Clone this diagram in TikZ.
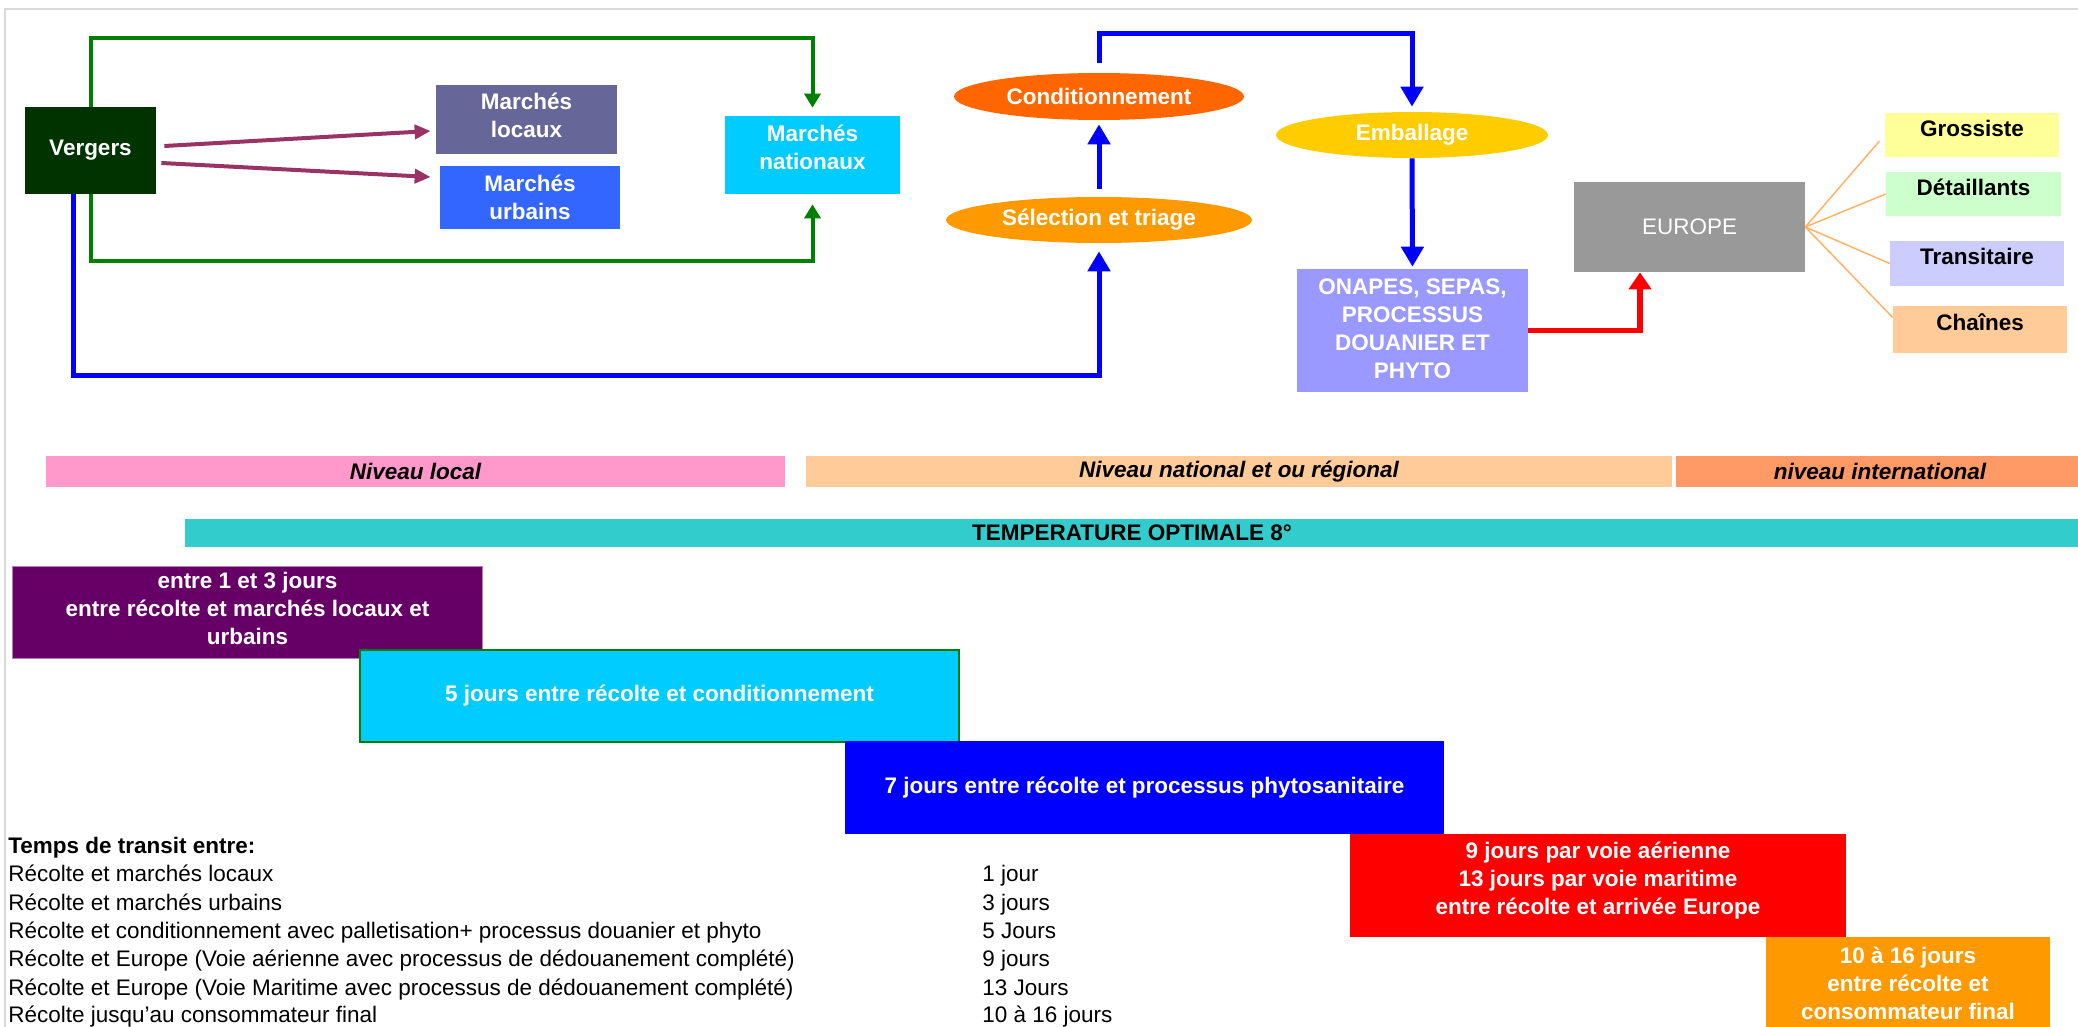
\documentclass[tikz,border=0pt]{standalone}
\usepackage{fontspec}
\setmainfont{Liberation Sans}
\usepackage{tikz}
\usetikzlibrary{arrows.meta,shapes.geometric}

\newcommand{\txtsize}{\fontsize{12.8}{15.9}\selectfont}

\definecolor{vergerfill}{HTML}{003300}
\definecolor{locauxfill}{HTML}{666699}
\definecolor{urbainsfill}{HTML}{3366FF}
\definecolor{nationfill}{HTML}{00CCFF}
\definecolor{condfill}{HTML}{FF6600}
\definecolor{selfill}{HTML}{FF9900}
\definecolor{embfill}{HTML}{FFCC00}
\definecolor{onapesfill}{HTML}{9999FF}
\definecolor{europefill}{HTML}{999999}
\definecolor{grossfill}{HTML}{FFFF99}
\definecolor{detfill}{HTML}{CCFFCC}
\definecolor{transfill}{HTML}{CCCCFF}
\definecolor{chainfill}{HTML}{FFCC99}
\definecolor{localbar}{HTML}{FF99CC}
\definecolor{nationbar}{HTML}{FFCC99}
\definecolor{interbar}{HTML}{FF9966}
\definecolor{tempbar}{HTML}{33CCCC}
\definecolor{purplebox}{HTML}{660066}
\definecolor{cyanbox}{HTML}{00CCFF}
\definecolor{bluebox}{HTML}{0000FF}
\definecolor{redbox}{HTML}{FF0000}
\definecolor{orangebox}{HTML}{FF9900}
\definecolor{flowgreen}{HTML}{008000}
\definecolor{flowpurple}{HTML}{993366}
\definecolor{flowblue}{HTML}{0000FF}
\definecolor{flowred}{HTML}{FF0000}
\definecolor{fanorange}{HTML}{FFB366}
\definecolor{framegray}{HTML}{D9D9D9}

\begin{document}
\begin{tikzpicture}[x=0.02cm,y=-0.02cm,
  box/.style={rectangle,inner sep=0pt,align=center,text=white,font=\txtsize\bfseries},
  oval/.style={ellipse,inner sep=0pt,text=white,font=\txtsize\bfseries},
  client/.style={rectangle,inner sep=0pt,font=\txtsize\bfseries,text height=0.75em,text depth=0.62em},
  bar/.style={rectangle,inner sep=0pt,font=\txtsize\bfseries\itshape},
  tabtxt/.style={anchor=base west,inner sep=0pt,font=\txtsize},
  greenflow/.style={flowgreen,line width=0.08cm,-{Triangle[length=0.28cm,width=0.32cm]}},
  purpleflow/.style={flowpurple,line width=0.08cm,-{Triangle[length=0.32cm,width=0.28cm]}},
  blueflow/.style={flowblue,line width=0.1cm,-{Triangle[length=0.4cm,width=0.44cm]}},
  redflow/.style={flowred,line width=0.11cm,-{Triangle[length=0.34cm,width=0.44cm]}},
  fanline/.style={fanorange,line width=0.03cm}]

\useasboundingbox (0,0) rectangle (2078,1027);
\draw[framegray,line width=0.04cm] (5,1027) -- (5,9) -- (2078,9);

% markets
\node[box,fill=vergerfill,minimum width=2.62cm,minimum height=1.74cm] (vergers) at (90.5,150.5) {Vergers};
\node[box,fill=locauxfill,minimum width=3.62cm,minimum height=1.38cm,text depth=0.16cm] (locaux) at (526.5,119.5) {Marchés\\locaux};
\node[box,fill=urbainsfill,minimum width=3.6cm,minimum height=1.26cm] (urbains) at (530,197.5) {Marchés\\urbains};
\node[box,fill=nationfill,minimum width=3.5cm,minimum height=1.56cm,text depth=0.32cm] (nationaux) at (812.5,155) {Marchés\\nationaux};

% export chain
\node[oval,fill=condfill,minimum width=5.8cm,minimum height=0.94cm] (conditionnement) at (1099,96.5) {Conditionnement};
\node[oval,fill=selfill,minimum width=6.12cm,minimum height=0.92cm] (selection) at (1099,220) {Sélection et triage};
\node[oval,fill=embfill,minimum width=5.44cm,minimum height=0.92cm] (emballage) at (1412,135) {Emballage};
\node[box,fill=onapesfill,minimum width=4.62cm,minimum height=2.46cm,text depth=0.08cm] (onapes) at (1412.5,330.5) {ONAPES, SEPAS,\\PROCESSUS\\DOUANIER ET\\PHYTO};
\node[box,fill=europefill,minimum width=4.62cm,minimum height=1.8cm,font=\txtsize] (europe) at (1689.5,227) {EUROPE};

% clients
\node[client,fill=grossfill,minimum width=3.48cm,minimum height=0.88cm] (grossiste) at (1972,135) {Grossiste};
\node[client,fill=detfill,minimum width=3.5cm,minimum height=0.88cm] (detaillants) at (1973.5,194) {Détaillants};
\node[client,fill=transfill,minimum width=3.48cm,minimum height=0.9cm] (transitaire) at (1977,263.5) {Transitaire};
\node[client,fill=chainfill,minimum width=3.48cm,minimum height=0.94cm] (chaines) at (1980,329.5) {Chaînes};

% flows
\draw[greenflow,shorten >=0.16cm] (vergers.north) -- ++(0,-69) -| (nationaux.north);
\draw[greenflow,shorten >=0.2cm] (vergers.south) -- ++(0,67) -| (nationaux.south);
\draw[purpleflow] ([xshift=0.16cm,yshift=0.09cm]vergers.east) -- ([xshift=-0.1cm,yshift=-0.23cm]locaux.west);
\draw[purpleflow] ([xshift=0.1cm,yshift=-0.25cm]vergers.east) -- ([xshift=-0.18cm,yshift=0.41cm]urbains.west);
\draw[blueflow,shorten >=0.16cm] ([xshift=-0.34cm]vergers.south) -- ++(0,181) -| (selection.south);
\draw[blueflow,shorten <=0.16cm,shorten >=0.08cm] (selection.north) -- (conditionnement.south);
\draw[blueflow,shorten <=0.2cm,shorten >=0.1cm] (conditionnement.north) -- ++(0,-39) -| (emballage.north);
\draw[blueflow,shorten >=0.04cm] (emballage.south) -- (onapes.north);
\draw[redflow] (onapes.east) -| ([xshift=-0.99cm]europe.south);
\draw[fanline,shorten >=0.16cm] (europe.east) -- (grossiste.west);
\draw[fanline] (europe.east) -- (detaillants.west);
\draw[fanline] (europe.east) -- (transitaire.west);
\draw[fanline] (europe.east) -- ([yshift=0.24cm]chaines.west);

% levels
\node[bar,fill=localbar,minimum width=14.78cm,minimum height=0.62cm] (local) at (415.5,471.5) {Niveau local};
\node[bar,fill=nationbar,minimum width=17.32cm,minimum height=0.62cm] (national) at (1239,471.5) {Niveau national et ou régional};
\node[bar,fill=interbar,minimum width=8.16cm,minimum height=0.62cm] (international) at (1880,471.5) {niveau international};
\node[bar,fill=tempbar,minimum width=37.88cm,minimum height=0.56cm,font=\txtsize\bfseries] (temperature) at (1132,533) {TEMPERATURE OPTIMALE 8°};

% delays
\node[box,fill=purplebox,draw=purplebox!50!white,line width=0.02cm,minimum width=9.42cm,minimum height=1.86cm,text depth=0.16cm] (delai13) at (247.5,612.5) {entre 1 et 3 jours\\entre récolte et marchés locaux et\\urbains};
\node[box,fill=cyanbox,draw=flowgreen,line width=0.03cm,minimum width=11.98cm,minimum height=1.84cm] (delai5) at (659.5,696) {5 jours entre récolte et conditionnement};
\node[box,fill=bluebox,minimum width=11.98cm,minimum height=1.86cm] (delai7) at (1144.5,787.5) {7 jours entre récolte et processus phytosanitaire};
\node[box,fill=redbox,minimum width=9.92cm,minimum height=2.06cm,text depth=0.29cm] (delaieurope) at (1598,885.5) {9 jours par voie aérienne\\13 jours par voie maritime\\entre récolte et arrivée Europe};
\node[box,fill=orangebox,minimum width=5.68cm,minimum height=1.84cm] (delaifinal) at (1908,983) {10 à 16 jours\\entre récolte et\\consommateur final};

% transit table
\node[tabtxt,font=\txtsize\bfseries] (titre) at (8,853) {Temps de transit entre:};
\node[tabtxt] (ligne1) at (8,881) {Récolte et marchés locaux};
\node[tabtxt] (ligne2) at (8,910) {Récolte et marchés urbains};
\node[tabtxt] (ligne3) at (8,938) {Récolte et conditionnement avec palletisation+ processus douanier et phyto};
\node[tabtxt] (ligne4) at (8,966) {Récolte et Europe (Voie aérienne avec processus de dédouanement complété)};
\node[tabtxt] (ligne5) at (8,995) {Récolte et Europe (Voie Maritime avec processus de dédouanement complété)};
\node[tabtxt] (ligne6) at (8,1022) {Récolte jusqu'au consommateur final};
\node[tabtxt] (duree1) at (982,881) {1 jour};
\node[tabtxt] (duree2) at (982,910) {3 jours};
\node[tabtxt] (duree3) at (982,938) {5 Jours};
\node[tabtxt] (duree4) at (982,966) {9 jours};
\node[tabtxt] (duree5) at (982,995) {13 Jours};
\node[tabtxt] (duree6) at (982,1022) {10 à 16 jours};

\end{tikzpicture}
\end{document}
